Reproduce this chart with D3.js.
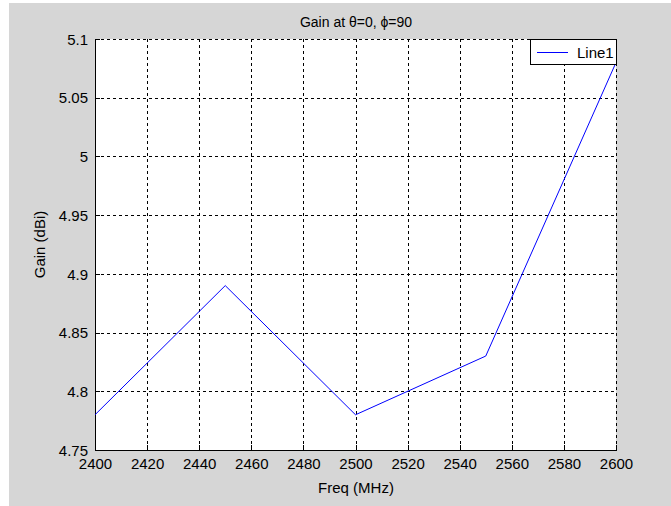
<!DOCTYPE html>
<html>
<head>
<meta charset="utf-8">
<script src="https://cdn.jsdelivr.net/npm/d3@7"></script>
<style>
  html, body { margin: 0; padding: 0; background: #ffffff; }
  svg { display: block; }
  text { font-family: "Liberation Sans", Arial, sans-serif; fill: #000; }
</style>
</head>
<body>
<svg id="chart" width="671" height="506"></svg>
<script>
// Gain measurements across the band
const freqs = [2400, 2450, 2500, 2550, 2600];
const gains = [4.78, 4.89, 4.78, 4.83, 5.08];
const xTicks = [2400, 2420, 2440, 2460, 2480, 2500, 2520, 2540, 2560, 2580, 2600];
const yTicks = [4.75, 4.8, 4.85, 4.9, 4.95, 5, 5.05, 5.1];
const seriesName = "Line1";

const svg = d3.select("#chart");
const W = 671, H = 506;
const plot = { left: 95, right: 616, top: 39, bottom: 450 };

// figure background
svg.append("rect")
  .attr("x", 9).attr("y", 3).attr("width", W - 9).attr("height", H - 3)
  .attr("fill", "#d6d6d6");

const x = d3.scaleLinear().domain([2400, 2600]).range([plot.left, plot.right]);
const y = d3.scaleLinear().domain([4.75, 5.1]).range([plot.bottom, plot.top]);

// plot area
svg.append("rect")
  .attr("x", plot.left).attr("y", plot.top)
  .attr("width", plot.right - plot.left).attr("height", plot.bottom - plot.top)
  .attr("fill", "#ffffff");

// dashed grid
const grid = svg.append("g").attr("stroke", "#000").attr("stroke-width", 1)
  .attr("stroke-dasharray", "3,3").attr("shape-rendering", "crispEdges");
grid.selectAll("line.v").data(xTicks.slice(1)).join("line")
  .attr("x1", d => Math.round(x(d)) + 0.5).attr("x2", d => Math.round(x(d)) + 0.5)
  .attr("y1", plot.bottom).attr("y2", plot.top);
grid.selectAll("line.h").data(yTicks.slice(1)).join("line")
  .attr("y1", d => Math.round(y(d)) + 0.5).attr("y2", d => Math.round(y(d)) + 0.5)
  .attr("x1", plot.left).attr("x2", plot.right);

// axes with inward ticks
const xAxis = d3.axisBottom(x).tickValues(xTicks).tickFormat(d3.format("d"))
  .tickSizeInner(-5).tickSizeOuter(0).tickPadding(8);
const gx = svg.append("g").attr("transform", `translate(0,${plot.bottom})`).call(xAxis);
const yAxis = d3.axisLeft(y).tickValues(yTicks).tickFormat(d => String(+d.toFixed(2)))
  .tickSizeInner(-5).tickSizeOuter(0).tickPadding(7);
const gy = svg.append("g").attr("transform", `translate(${plot.left},0)`).call(yAxis);

[gx, gy].forEach(g => {
  g.select(".domain").attr("stroke", "#000").attr("shape-rendering", "crispEdges");
  g.selectAll(".tick line").attr("stroke", "#000").attr("shape-rendering", "crispEdges");
  g.selectAll(".tick text").attr("font-size", 15)
    .attr("font-family", "'Liberation Sans', Arial, sans-serif").attr("fill", "#000");
});
gy.selectAll(".tick text").attr("dy", "0.35em");

// data line
const line = d3.line().x((d, i) => x(freqs[i])).y(d => y(d));
svg.append("path").datum(gains)
  .attr("d", line).attr("fill", "none")
  .attr("stroke", "#0000ff").attr("stroke-width", 1);

// titles
svg.append("text").attr("x", 356).attr("y", 27).attr("text-anchor", "middle")
  .attr("font-size", 14).text("Gain at \u03B8=0, \u03D5=90");
svg.append("text").attr("x", 356).attr("y", 493).attr("text-anchor", "middle")
  .attr("font-size", 15).text("Freq (MHz)");
svg.append("text")
  .attr("transform", `translate(45,${(plot.top + plot.bottom) / 2}) rotate(-90)`)
  .attr("text-anchor", "middle").attr("font-size", 15).text("Gain (dBi)");

// legend
const lg = svg.append("g");
lg.append("rect").attr("x", 530.5).attr("y", 39.5).attr("width", 86).attr("height", 25)
  .attr("fill", "#fff").attr("stroke", "#000");
lg.append("line").attr("x1", 537).attr("x2", 568).attr("y1", 52.5).attr("y2", 52.5)
  .attr("stroke", "#0000ff");
lg.append("text").attr("x", 577).attr("y", 58).attr("font-size", 15).text(seriesName);
</script>
</body>
</html>
